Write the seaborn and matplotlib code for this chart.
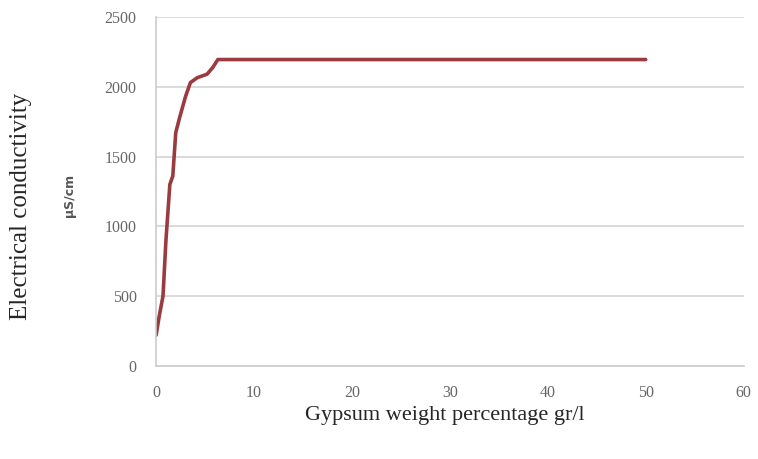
import matplotlib
matplotlib.use("Agg")
import matplotlib.pyplot as plt
import seaborn as sns
import pandas as pd

gypsum = [0.0, 0.3, 0.7, 1.0, 1.4, 1.7, 2.0, 2.4, 3.0, 3.5, 4.2, 5.2, 5.8, 6.3, 10, 20, 30, 40, 50]
conductivity = [220, 350, 500, 900, 1300, 1360, 1670, 1780, 1930, 2030, 2065, 2090, 2140, 2195, 2195, 2195, 2195, 2195, 2195]
xticks = [0, 10, 20, 30, 40, 50, 60]
yticks = [0, 500, 1000, 1500, 2000, 2500]

df = pd.DataFrame({"x": gypsum, "y": conductivity})

sns.set_style("white")
plt.rcParams['font.family'] = ['Liberation Serif', 'DejaVu Serif']

fig = plt.figure(figsize=(7.58, 4.59), dpi=100)
ax = fig.add_axes([0.206, 0.203, 0.775, 0.76])
sns.lineplot(data=df, x="x", y="y", ax=ax, color="#9a3b3f", linewidth=2.6, sort=False)

ax.set_xlim(0, 60)
ax.set_ylim(0, 2500)
ax.set_xticks(xticks)
ax.set_yticks(yticks)
ax.set_xticklabels([str(t) for t in xticks], color="#666666", fontsize=11.5)
ax.set_yticklabels([str(t) for t in yticks], color="#666666", fontsize=11.5)
ax.yaxis.grid(True, color="#d4d4d4", linewidth=1.2)
ax.xaxis.grid(False)
for s in ["top", "right"]:
    ax.spines[s].set_visible(False)
for s in ["left", "bottom"]:
    ax.spines[s].set_color("#cccccc")
    ax.spines[s].set_linewidth(1.2)
ax.tick_params(axis="x", direction="in", length=3, color="#cccccc", pad=14)
ax.tick_params(axis="y", length=0, pad=14)
ax.set_xlabel("")
ax.set_ylabel("")

fig.text(0.587, 0.095, "Gypsum weight percentage gr/l", ha="center", va="center", fontsize=16)
fig.text(0.028, 0.55, "Electrical conductivity", ha="center", va="center", rotation=90, fontsize=18)
fig.text(0.092, 0.575, "µS/cm", ha="center", va="center", rotation=90, fontsize=9,
         fontweight="bold", color="#555555", family=["DejaVu Sans"])

fig.savefig("out.png", dpi=100)
